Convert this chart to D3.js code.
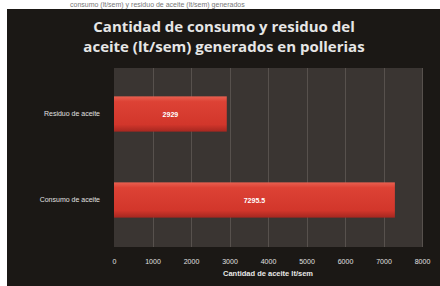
<!DOCTYPE html>
<html><head><meta charset="utf-8">
<script src="https://cdn.jsdelivr.net/npm/d3@7"></script>
<style>html,body{margin:0;padding:0;background:#fff;overflow:hidden}</style>
</head><body>
<script>
const categories = ["Residuo de aceite", "Consumo de aceite"];
const values = [2929, 7295.5];
const valueLabels = ["2929", "7295.5"];
const ticks = [0, 1000, 2000, 3000, 4000, 5000, 6000, 7000, 8000];
const titleLines = ["Cantidad de consumo y residuo del", "aceite (lt/sem) generados en pollerias"];
const axisTitle = "Cantidad de aceite lt/sem";

const W = 440, H = 286;
const svg = d3.select("body").append("svg").attr("width", W).attr("height", H);
const defs = svg.append("defs");
const g1 = defs.append("linearGradient").attr("id","bar").attr("x1",0).attr("y1",0).attr("x2",0).attr("y2",1);
g1.append("stop").attr("offset","0%").attr("stop-color","#e86050");
g1.append("stop").attr("offset","15%").attr("stop-color","#dd4235");
g1.append("stop").attr("offset","80%").attr("stop-color","#d2362b");
g1.append("stop").attr("offset","100%").attr("stop-color","#a52720");

// background: white strip top & left, dark chart
svg.append("rect").attr("x",0).attr("y",0).attr("width",W).attr("height",H).attr("fill","#fff");
svg.append("text").attr("x",70).attr("y",7).attr("font-family","Liberation Sans, Arial").attr("font-size",7)
  .attr("fill","#777").text("consumo (lt/sem) y residuo de aceite (lt/sem) generados");
svg.append("rect").attr("x",7).attr("y",9).attr("width",W-7).attr("height",H-9).attr("fill","#1b1815");

const x = d3.scaleLinear().domain([0, 8000]).range([114, 422]);
const y = d3.scaleBand().domain(categories).range([71, 243]).paddingInner(0.59).paddingOuter(0.295);

// plot area
svg.append("rect").attr("x",x(0)).attr("y",68).attr("width",x(8000)-x(0)).attr("height",247-68).attr("fill","#3a3532");

// gridlines
svg.append("g").selectAll("line").data(ticks.slice(1)).join("line")
  .attr("x1",d=>Math.round(x(d))+0.5).attr("x2",d=>Math.round(x(d))+0.5)
  .attr("y1",68).attr("y2",247).attr("stroke","#57514d").attr("stroke-width",1);

// bars
svg.append("g").selectAll("rect").data(values).join("rect")
  .attr("x",x(0)).attr("y",(d,i)=>y(categories[i]))
  .attr("width",d=>x(d)-x(0)).attr("height",y.bandwidth())
  .attr("fill","url(#bar)");

// bar labels
svg.append("g").selectAll("text").data(values).join("text")
  .attr("x",d=>(x(d)+x(0))/2).attr("y",(d,i)=>y(categories[i])+y.bandwidth()/2+2.5)
  .attr("text-anchor","middle").attr("font-family","Liberation Sans, Arial").attr("font-weight","bold")
  .attr("font-size",7).attr("fill","#fff").text((d,i)=>valueLabels[i]);

// y axis labels
const yAxis = d3.axisLeft(y).tickSize(0).tickPadding(14);
const ya = svg.append("g").attr("transform",`translate(${x(0)},0)`).call(yAxis);
ya.select(".domain").remove();
ya.selectAll("text").attr("font-family","Liberation Sans, Arial").attr("font-size",7).attr("fill","#e0e0e0");

// x axis
const xAxis = d3.axisBottom(x).tickValues(ticks).tickSize(0).tickPadding(9).tickFormat(d3.format("d"));
const xa = svg.append("g").attr("transform",`translate(0,250)`).call(xAxis);
xa.select(".domain").remove();
xa.selectAll("text").attr("font-family","Liberation Sans, Arial").attr("font-size",7).attr("fill","#e0e0e0");

svg.append("text").attr("x",(x(0)+x(8000))/2).attr("y",276).attr("text-anchor","middle")
  .attr("font-family","Liberation Sans, Arial").attr("font-weight","bold").attr("font-size",7.5)
  .attr("fill","#e8e8e8").text(axisTitle);

// title
svg.append("g").selectAll("text").data(titleLines).join("text")
  .attr("x",224).attr("y",(d,i)=>32+i*20).attr("text-anchor","middle")
  .attr("font-family","Open Sans, Noto Sans, sans-serif").attr("font-weight","bold").attr("font-size",15)
  .attr("fill","#e6e6e6").text(d=>d);
</script>
</body></html>
